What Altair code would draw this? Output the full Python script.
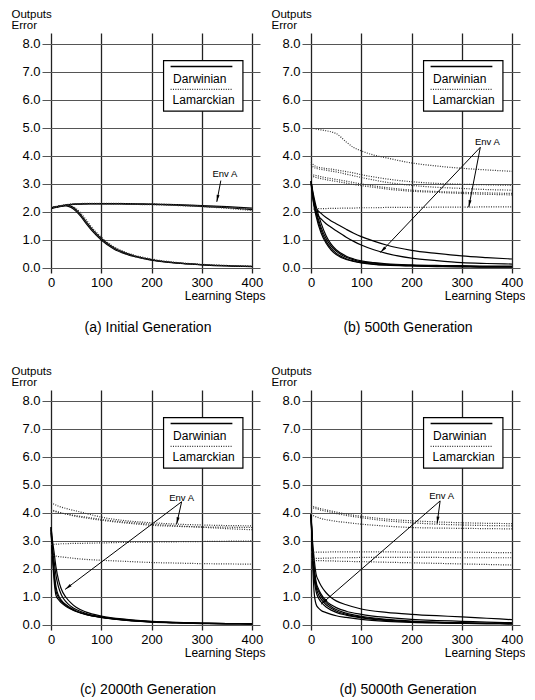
import math
import altair as alt
import pandas as pd

FONT = "Liberation Sans"

# ---------------- data ----------------
# (a) Initial Generation
A_STEPS = [0, 10, 20, 30, 40, 50, 60, 70, 80, 100, 125, 150, 200, 250, 300, 350, 400]
A_DARWIN = [
    [2.15, 2.18, 2.22, 2.25, 2.27, 2.28, 2.29, 2.29, 2.30, 2.30, 2.30, 2.30, 2.28, 2.26, 2.23, 2.19, 2.14],
    [2.12, 2.16, 2.20, 2.24, 2.26, 2.28, 2.28, 2.29, 2.29, 2.29, 2.29, 2.28, 2.27, 2.24, 2.20, 2.15, 2.08],
    [2.15, 2.18, 2.22, 2.24, 2.20, 2.08, 1.88, 1.65, 1.42, 1.05, 0.72, 0.52, 0.30, 0.18, 0.12, 0.08, 0.06],
    [2.13, 2.17, 2.21, 2.22, 2.16, 2.02, 1.82, 1.58, 1.36, 1.00, 0.68, 0.49, 0.28, 0.17, 0.11, 0.07, 0.05],
]
A_LAMARCK = [
    [2.17, 2.20, 2.23, 2.26, 2.28, 2.29, 2.30, 2.31, 2.31, 2.31, 2.31, 2.30, 2.29, 2.26, 2.22, 2.17, 2.11],
    [2.14, 2.17, 2.21, 2.24, 2.27, 2.28, 2.29, 2.30, 2.30, 2.29, 2.28, 2.27, 2.26, 2.23, 2.19, 2.13, 2.05],
    [2.16, 2.19, 2.23, 2.25, 2.22, 2.12, 1.94, 1.72, 1.48, 1.10, 0.76, 0.55, 0.32, 0.20, 0.13, 0.09, 0.07],
    [2.14, 2.18, 2.22, 2.23, 2.18, 2.05, 1.85, 1.62, 1.40, 1.03, 0.70, 0.50, 0.29, 0.18, 0.12, 0.08, 0.05],
]

# (b) 500th Generation
B_STEPS = [0, 5, 10, 20, 30, 40, 50, 70, 85, 100, 125, 150, 200, 250, 300, 350, 400]
B_DARWIN = [
    [3.10, 2.50, 2.05, 1.45, 1.05, 0.78, 0.60, 0.38, 0.29, 0.22, 0.17, 0.13, 0.09, 0.07, 0.06, 0.05, 0.05],
    [3.05, 2.40, 1.95, 1.35, 0.95, 0.70, 0.53, 0.33, 0.25, 0.19, 0.14, 0.11, 0.08, 0.06, 0.05, 0.04, 0.04],
    [3.10, 2.60, 2.20, 1.60, 1.15, 0.85, 0.65, 0.42, 0.32, 0.25, 0.19, 0.15, 0.11, 0.09, 0.08, 0.07, 0.07],
    [3.00, 2.30, 1.85, 1.25, 0.88, 0.64, 0.48, 0.30, 0.23, 0.18, 0.13, 0.10, 0.07, 0.05, 0.04, 0.03, 0.03],
    [3.10, 2.45, 2.15, 1.95, 1.80, 1.68, 1.58, 1.38, 1.24, 1.12, 0.96, 0.82, 0.63, 0.52, 0.43, 0.37, 0.32],
    [3.10, 2.35, 2.00, 1.75, 1.58, 1.45, 1.33, 1.10, 0.95, 0.82, 0.65, 0.52, 0.35, 0.26, 0.19, 0.16, 0.14],
]
B_LAMARCK = [
    [5.00, 4.98, 4.96, 4.93, 4.90, 4.86, 4.80, 4.50, 4.30, 4.18, 4.03, 3.93, 3.75, 3.64, 3.56, 3.50, 3.45],
    [3.77, 3.68, 3.62, 3.58, 3.55, 3.53, 3.50, 3.44, 3.39, 3.33, 3.25, 3.18, 3.08, 3.02, 2.99, 2.97, 2.95],
    [3.70, 3.60, 3.56, 3.52, 3.49, 3.46, 3.43, 3.35, 3.29, 3.23, 3.14, 3.06, 2.95, 2.88, 2.84, 2.80, 2.78],
    [3.36, 3.32, 3.30, 3.26, 3.22, 3.19, 3.16, 3.10, 3.05, 3.00, 2.93, 2.87, 2.78, 2.73, 2.70, 2.68, 2.66],
    [3.30, 3.26, 3.23, 3.19, 3.15, 3.12, 3.09, 3.03, 2.98, 2.94, 2.88, 2.82, 2.74, 2.70, 2.66, 2.63, 2.61],
    [2.10, 2.10, 2.11, 2.12, 2.12, 2.13, 2.13, 2.14, 2.14, 2.15, 2.15, 2.16, 2.16, 2.17, 2.17, 2.18, 2.18],
]

# (c) 2000th Generation
C_STEPS = [0, 3, 6, 10, 15, 20, 30, 40, 50, 70, 100, 150, 200, 250, 300, 350, 400]
C_DARWIN = [
    [3.45, 2.40, 1.60, 1.05, 0.90, 0.80, 0.66, 0.56, 0.48, 0.37, 0.27, 0.17, 0.11, 0.08, 0.06, 0.05, 0.04],
    [3.40, 2.60, 1.95, 1.35, 1.05, 0.90, 0.72, 0.60, 0.50, 0.38, 0.27, 0.16, 0.10, 0.07, 0.05, 0.04, 0.03],
    [3.50, 2.80, 2.30, 1.75, 1.35, 1.10, 0.82, 0.66, 0.55, 0.41, 0.29, 0.18, 0.12, 0.08, 0.06, 0.05, 0.04],
    [3.50, 3.00, 2.60, 2.05, 1.60, 1.30, 0.98, 0.78, 0.63, 0.46, 0.32, 0.20, 0.13, 0.09, 0.07, 0.05, 0.04],
    [3.30, 2.50, 1.80, 1.20, 0.98, 0.85, 0.69, 0.58, 0.49, 0.38, 0.28, 0.17, 0.11, 0.08, 0.06, 0.05, 0.04],
]
C_LAMARCK = [
    [4.37, 4.34, 4.31, 4.28, 4.24, 4.21, 4.16, 4.11, 4.07, 3.98, 3.85, 3.72, 3.65, 3.60, 3.57, 3.55, 3.54],
    [4.10, 4.08, 4.06, 4.04, 4.02, 4.00, 3.96, 3.93, 3.90, 3.85, 3.77, 3.67, 3.60, 3.54, 3.49, 3.44, 3.40],
    [4.12, 4.10, 4.08, 4.06, 4.03, 4.00, 3.96, 3.92, 3.88, 3.82, 3.74, 3.64, 3.56, 3.52, 3.50, 3.49, 3.48],
    [2.88, 2.88, 2.88, 2.89, 2.89, 2.90, 2.90, 2.91, 2.91, 2.92, 2.93, 2.95, 2.96, 2.97, 2.98, 2.99, 3.00],
    [2.50, 2.49, 2.48, 2.46, 2.44, 2.43, 2.41, 2.39, 2.37, 2.34, 2.31, 2.27, 2.23, 2.21, 2.19, 2.18, 2.17],
]

# (d) 5000th Generation
D_STEPS = [0, 3, 6, 10, 15, 20, 30, 40, 50, 70, 100, 150, 200, 250, 300, 350, 400]
D_DARWIN = [
    [3.95, 2.30, 1.20, 0.74, 0.60, 0.52, 0.44, 0.38, 0.33, 0.27, 0.20, 0.13, 0.09, 0.07, 0.06, 0.05, 0.04],
    [3.95, 2.80, 2.10, 1.55, 1.28, 1.10, 0.86, 0.72, 0.62, 0.49, 0.38, 0.27, 0.20, 0.16, 0.13, 0.10, 0.08],
    [3.95, 3.00, 2.40, 1.82, 1.58, 1.40, 1.15, 0.98, 0.86, 0.72, 0.57, 0.45, 0.38, 0.33, 0.29, 0.24, 0.19],
    [3.90, 2.60, 1.90, 1.35, 1.08, 0.92, 0.72, 0.60, 0.50, 0.38, 0.28, 0.18, 0.12, 0.09, 0.07, 0.06, 0.05],
    [3.90, 2.70, 2.00, 1.45, 1.20, 1.02, 0.80, 0.66, 0.55, 0.42, 0.31, 0.20, 0.14, 0.10, 0.08, 0.06, 0.05],
    [3.95, 2.50, 1.70, 1.20, 0.95, 0.82, 0.64, 0.53, 0.45, 0.35, 0.25, 0.16, 0.11, 0.08, 0.06, 0.05, 0.04],
]
D_LAMARCK = [
    [4.27, 4.24, 4.22, 4.20, 4.17, 4.15, 4.11, 4.07, 4.03, 3.96, 3.88, 3.78, 3.72, 3.68, 3.65, 3.63, 3.62],
    [4.22, 4.19, 4.17, 4.15, 4.13, 4.10, 4.06, 4.02, 3.98, 3.91, 3.83, 3.72, 3.65, 3.60, 3.57, 3.55, 3.54],
    [3.95, 3.92, 3.89, 3.86, 3.83, 3.80, 3.76, 3.73, 3.70, 3.66, 3.60, 3.53, 3.48, 3.46, 3.45, 3.44, 3.43],
    [2.60, 2.60, 2.60, 2.60, 2.60, 2.60, 2.60, 2.61, 2.61, 2.61, 2.61, 2.61, 2.60, 2.60, 2.60, 2.59, 2.58],
    [2.37, 2.37, 2.37, 2.38, 2.38, 2.38, 2.39, 2.39, 2.40, 2.40, 2.41, 2.41, 2.41, 2.41, 2.40, 2.40, 2.40],
    [2.30, 2.30, 2.30, 2.30, 2.30, 2.30, 2.29, 2.29, 2.28, 2.27, 2.26, 2.24, 2.22, 2.20, 2.18, 2.16, 2.14],
]

PANEL_TITLES = ["(a) Initial Generation", "(b) 500th Generation",
                "(c) 2000th Generation", "(d) 5000th Generation"]

# "Env A" annotation: label position, arrow origin, arrow targets
ENV_LABEL = [(346, 3.36), (351, 4.51), (260, 4.55), (260, 4.60)]
ENV_ORIGIN = [(338, 3.12), (337, 4.31), (260, 4.40), (257, 4.43)]
ENV_TARGETS = [
    [(330, 2.36)],
    [(138, 0.55), (314, 2.17)],
    [(28, 1.27), (250, 3.60)],
    [(20, 0.74), (251, 3.62)],
]

LEGEND_LABELS = ["Darwinian", "Lamarckian"]

X_TICKS = [0, 100, 200, 300, 400]
Y_TICKS = [0, 1, 2, 3, 4, 5, 6, 7, 8]

# ---------------- layout constants ----------------
W, H = 218, 240
XDOM = [-18, 416]
YDOM = [-0.18, 8.39]
PX_X = W / (XDOM[1] - XDOM[0])
PX_Y = H / (YDOM[1] - YDOM[0])


def xenc(field="x"):
    return alt.X(
        f"{field}:Q",
        scale=alt.Scale(domain=XDOM, nice=False, zero=False),
        axis=alt.Axis(
            values=X_TICKS, format="d", grid=True, domain=False, ticks=False,
            labelPadding=3, labelFontSize=13, labelFont=FONT, labelColor="black",
            title="Learning Steps", titleAlign="right", titleX=W + 5, titleY=17,
            titleBaseline="top", titleFontSize=12, titleFontWeight="normal",
            titleFont=FONT, titleColor="black",
            gridColor="#222222", gridWidth=1.3,
        ),
    )


def yenc(field="y"):
    return alt.Y(
        f"{field}:Q",
        scale=alt.Scale(domain=YDOM, nice=False, zero=False),
        axis=alt.Axis(
            values=Y_TICKS, format=".1f", grid=True, domain=False, ticks=False,
            labelPadding=2, labelFontSize=13, labelFont=FONT, labelColor="black",
            title=["Outputs", "Error"], titleAngle=0, titleAlign="left",
            titleBaseline="top", titleX=-31, titleY=-25, titleFontSize=11.5,
            titleFontWeight="normal", titleLineHeight=11, titleFont=FONT,
            titleColor="black",
            gridColor="#555555", gridWidth=1,
        ),
    )


def curves_df(steps, series):
    rows = []
    for ci, ys in enumerate(series):
        for sx, sy in zip(steps, ys):
            rows.append({"cid": ci, "x": sx, "y": sy})
    return pd.DataFrame(rows)


def arrow_angle(x1, y1, x2, y2):
    dx = (x2 - x1) * PX_X
    dy = -(y2 - y1) * PX_Y  # screen coordinates (down positive)
    return math.degrees(math.atan2(dx, -dy)) % 360


ARROW_PATH = "M0,0L-0.42,2L0.42,2Z"


def panel(i, steps, darwin, lamarck, title_offset):
    solid = alt.Chart(curves_df(steps, darwin)).mark_line(
        color="black", strokeWidth=1.2, interpolate="monotone"
    ).encode(x=xenc(), y=yenc(), detail="cid:N")

    dotted = alt.Chart(curves_df(steps, lamarck)).mark_line(
        color="#333333", strokeWidth=1.2, strokeDash=[1, 1.4], interpolate="monotone"
    ).encode(x=xenc(), y=yenc(), detail="cid:N")

    box = alt.Chart(pd.DataFrame({"x": [224], "x2": [382], "y": [5.6], "y2": [7.4]})).mark_rect(
        fill="white", stroke="black", strokeWidth=1.2
    ).encode(x=xenc(), x2="x2:Q", y=yenc(), y2="y2:Q")

    leg_solid = alt.Chart(pd.DataFrame({"x": [238], "x2": [361], "y": [7.19]})).mark_rule(
        color="black", strokeWidth=1.5
    ).encode(x=xenc(), x2="x2:Q", y=yenc())

    leg_dot = alt.Chart(pd.DataFrame({"x": [238], "x2": [361], "y": [6.38]})).mark_rule(
        color="#333333", strokeWidth=1.2, strokeDash=[1, 1.4]
    ).encode(x=xenc(), x2="x2:Q", y=yenc())

    leg_text = alt.Chart(pd.DataFrame({"x": [243, 242], "y": [6.76, 6.0], "t": LEGEND_LABELS})).mark_text(
        align="left", baseline="middle", fontSize=12, font=FONT, color="black"
    ).encode(x=xenc(), y=yenc(), text="t:N")

    ox, oy = ENV_ORIGIN[i]
    arr = pd.DataFrame([
        {"x": ox, "y": oy, "x2": tx, "y2": ty, "ang": arrow_angle(ox, oy, tx, ty)}
        for tx, ty in ENV_TARGETS[i]
    ])
    arrow_lines = alt.Chart(arr).mark_rule(color="black", strokeWidth=1).encode(
        x=xenc(), y=yenc(), x2="x2:Q", y2="y2:Q"
    )
    heads = arr.rename(columns={"x": "ox", "y": "oy"}).rename(columns={"x2": "x", "y2": "y"})
    arrow_heads = alt.Chart(heads).mark_point(
        shape=ARROW_PATH, filled=True, size=49, color="black", opacity=1, strokeWidth=0
    ).encode(x=xenc(), y=yenc(), angle=alt.Angle("ang:Q", scale=None))

    lx, ly = ENV_LABEL[i]
    env_text = alt.Chart(pd.DataFrame({"x": [lx], "y": [ly], "t": ["Env A"]})).mark_text(
        align="center", baseline="middle", fontSize=9.5, font=FONT, color="black"
    ).encode(x=xenc(), y=yenc(), text="t:N")

    return alt.layer(
        solid, dotted, box, leg_solid, leg_dot, leg_text, arrow_lines, arrow_heads, env_text
    ).properties(
        width=W, height=H,
        title=alt.TitleParams(
            text=PANEL_TITLES[i], orient="bottom", anchor="middle", frame="group",
            fontSize=14, fontWeight="normal", font=FONT, color="black",
            offset=title_offset, dx=-3,
        ),
    )


pa = panel(0, A_STEPS, A_DARWIN, A_LAMARCK, 20)
pb = panel(1, B_STEPS, B_DARWIN, B_LAMARCK, 20)
pc = panel(2, C_STEPS, C_DARWIN, C_LAMARCK, 25)
pd_ = panel(3, D_STEPS, D_DARWIN, D_LAMARCK, 25)

chart = alt.vconcat(
    alt.hconcat(pa, pb, spacing=6),
    alt.hconcat(pc, pd_, spacing=6),
    spacing=30,
).properties(
    padding={"left": 11, "top": 8, "right": 0, "bottom": 0},
    background="white",
).configure_view(stroke=None)

chart.save("out.html", embed_options={"renderer": "svg", "actions": False})
